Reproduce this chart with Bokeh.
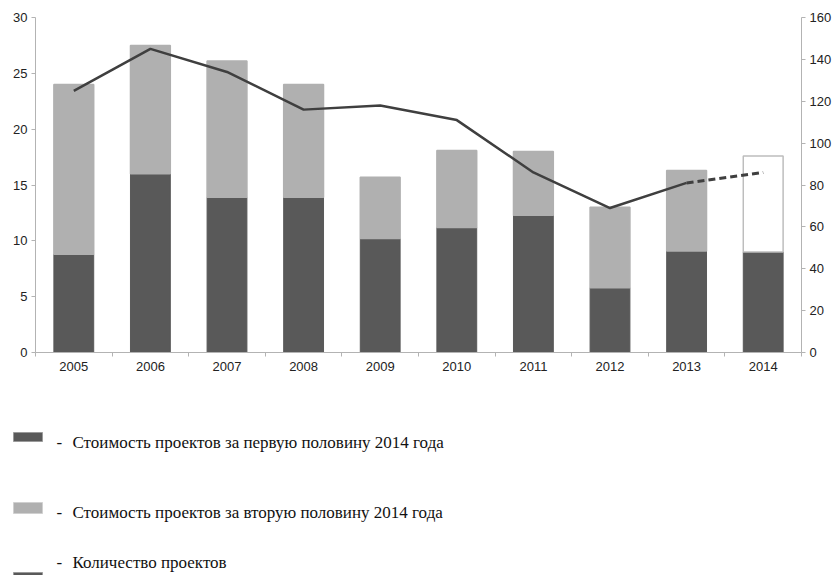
from bokeh.plotting import figure
from bokeh.models import Range1d, LinearAxis, FixedTicker, ColumnDataSource
from bokeh.layouts import column
from bokeh.embed import file_html
from bokeh.resources import INLINE
from bokeh.core.properties import value

# ---- data ----
years = ["2005", "2006", "2007", "2008", "2009", "2010", "2011", "2012", "2013", "2014"]
first_half = [8.8, 16.0, 13.9, 13.9, 10.2, 11.2, 12.3, 5.8, 9.1, 9.0]
totals = [24.0, 27.5, 26.1, 24.0, 15.7, 18.1, 18.0, 13.0, 16.3, 17.6]
projects = [125, 145, 134, 116, 118, 111, 86, 69, 81, 86]
left_ticks = [0, 5, 10, 15, 20, 25, 30]
right_ticks = [0, 20, 40, 60, 80, 100, 120, 140, 160]
legend_labels = [
    "Стоимость  проектов за первую половину 2014  года",
    "Стоимость  проектов за вторую половину 2014  года",
    "Количество  проектов",
]

DARK = "#595959"
LIGHT = "#b0b0b0"
AXIS = "#b3b3b3"
LINE = "#3f3f3f"
FONT = "Liberation Sans"

x = list(range(len(years)))
n = len(years)
forecast = [y == "2014" for y in years]

src = ColumnDataSource(dict(
    x=x,
    first=first_half,
    total=totals,
    fill2=["#ffffff" if f else LIGHT for f in forecast],
    line2=["#bdbdbd" if f else LIGHT for f in forecast],
))

p = figure(frame_width=766, frame_height=335,
           x_range=Range1d(-0.5, n - 0.5), y_range=Range1d(left_ticks[0], left_ticks[-1]),
           output_backend="svg", toolbar_location=None,
           min_border_left=35, min_border_top=17, min_border_bottom=24, min_border_right=0)
p.frame_align = False
p.extra_y_ranges = {"cnt": Range1d(right_ticks[0], right_ticks[-1])}
p.outline_line_color = None
p.xgrid.visible = False
p.ygrid.visible = False

bw = 0.52
p.vbar(x="x", bottom=0, top="first", width=bw, source=src,
       fill_color=DARK, line_color=DARK)
p.vbar(x="x", bottom="first", top="total", width=bw, source=src,
       fill_color="fill2", line_color="line2", line_width=1.5)

p.line(x[:-1], projects[:-1], y_range_name="cnt", line_color=LINE, line_width=2.5)
p.line(x[-2:], projects[-2:], y_range_name="cnt", line_color=LINE, line_width=3,
       line_dash="7 4")

def style_axis(ax):
    ax.axis_line_color = AXIS
    ax.major_tick_line_color = AXIS
    ax.minor_tick_line_color = None
    ax.major_tick_out = 4
    ax.major_tick_in = 0
    ax.major_label_text_font = FONT
    ax.major_label_text_font_size = "13px"
    ax.major_label_text_color = "#222222"
    ax.major_label_standoff = 4

ly = p.yaxis[0]
ly.ticker = FixedTicker(ticks=left_ticks)
style_axis(ly)

ry = LinearAxis(y_range_name="cnt", ticker=FixedTicker(ticks=right_ticks))
style_axis(ry)
p.add_layout(ry, "right")

xa = p.xaxis[0]
xa.ticker = FixedTicker(ticks=x, minor_ticks=[i - 0.5 for i in range(n + 1)])
xa.major_label_overrides = {i: years[i] for i in x}
style_axis(xa)
xa.major_tick_out = 0
xa.minor_tick_line_color = AXIS
xa.minor_tick_out = 4
xa.minor_tick_in = 0
xa.major_label_standoff = 5

# ---- legend panel ----
LH = 199
q = figure(frame_width=830, frame_height=LH, x_range=Range1d(0, 830), y_range=Range1d(LH, 0),
           output_backend="svg", toolbar_location=None,
           x_axis_location=None, y_axis_location=None, min_border=0)
q.frame_align = False
q.outline_line_color = None
q.xgrid.visible = False
q.ygrid.visible = False

sw_top = [56, 126, 196]
sw_bot = [65, 137, 206]
sw_col = [DARK, LIGHT, DARK]
q.quad(left=[13, 13, 13], right=[42, 42, 42], top=sw_top, bottom=sw_bot,
       fill_color=sw_col, line_color=["#9a9a9a", "#d0d0d0", "#9a9a9a"], line_width=1)
base = [66, 136, 186]
q.text(x=[56] * 3, y=base, text=["-"] * 3, text_font=value("Liberation Serif"),
       text_font_size="17px", text_baseline="alphabetic", text_color="#111111")
q.text(x=[72] * 3, y=base, text=legend_labels, text_font=value("Liberation Serif"),
       text_font_size="17px", text_baseline="alphabetic", text_color="#111111")

layout = column(p, q, spacing=0)
open("out.html", "w").write(file_html(layout, INLINE))
